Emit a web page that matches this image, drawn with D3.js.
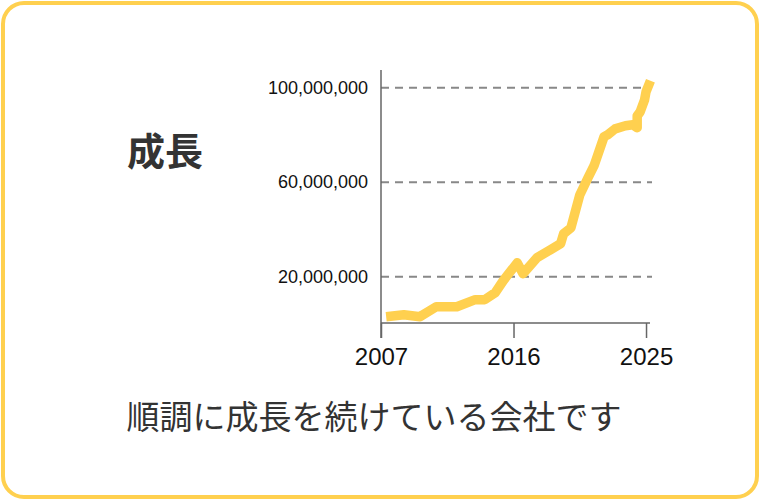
<!DOCTYPE html>
<html>
<head>
<meta charset="utf-8">
<script src="https://cdn.jsdelivr.net/npm/d3@7"></script>
<style>
  body { margin: 0; background: #fff; }
  .tick text { font-family: "Liberation Sans", Arial, sans-serif; fill: #111; }
</style>
</head>
<body>
<div id="chart"></div>
<script>
////////////////// Data ////////////////////
var years = [2007.35, 2008.55, 2009.65, 2010.75, 2012.15, 2013.4, 2014.05, 2014.75, 2015.3, 2016.25,
  2016.65, 2017.6, 2018.5, 2019.2, 2019.4, 2019.9, 2020.5, 2021.06, 2021.47, 2022.15,
  2022.4, 2022.9, 2023.6, 2024.1, 2024.4, 2024.4, 2024.6, 2024.9, 2025.0, 2025.3];
var values = [3100000, 3900000, 3100000, 7300000, 7300000, 10300000, 10300000, 13200000, 18300000, 25900000,
  21300000, 28100000, 31400000, 34000000, 38200000, 40700000, 54600000, 61900000, 67000000, 79300000,
  80100000, 82600000, 83900000, 84300000, 83100000, 88100000, 89800000, 94900000, 98300000, 103000000];
var xTicks = [2007, 2016, 2025];
var yTicks = [20000000, 60000000, 100000000];
var title = "成長";
var caption = "順調に成長を続けている会社です";

var data = years.map(function (y, i) { return { year: y, value: values[i] }; });

////////////////// SVG ////////////////////
var svgWidth = 760, svgHeight = 500;
var svg = d3.select("#chart").append("svg")
  .attr("width", svgWidth)
  .attr("height", svgHeight);

// yellow rounded frame
svg.append("rect")
  .attr("x", 3).attr("y", 3)
  .attr("width", svgWidth - 6).attr("height", svgHeight - 6)
  .attr("rx", 21).attr("ry", 21)
  .attr("fill", "#fff")
  .attr("stroke", "#ffd04f")
  .attr("stroke-width", 4);

////////////////// Scales ////////////////////
var x = d3.scaleLinear().domain([2007, 2025.27]).range([381, 650]);
var y = d3.scaleLinear().domain([0, 107500000]).range([324, 70]);

////////////////// Grid lines ////////////////////
svg.append("g").selectAll("line")
  .data(yTicks)
  .enter()
  .append("line")
  .attr("x1", 381).attr("x2", 652)
  .attr("y1", d => y(d)).attr("y2", d => y(d))
  .attr("stroke", "#888")
  .attr("stroke-width", 2)
  .attr("stroke-dasharray", "8,6");

////////////////// Axes ////////////////////
var yAxis = svg.append("g")
  .attr("transform", "translate(381,0)")
  .call(d3.axisLeft(y).tickValues(yTicks).tickSize(0).tickPadding(13)
    .tickFormat(d3.format(",")));
yAxis.select(".domain").attr("stroke", "#666").attr("stroke-width", 1.5)
  .attr("d", "M0," + y.range()[1] + "V338");
yAxis.selectAll(".tick text").attr("font-size", 18);

var xAxis = svg.append("g")
  .attr("transform", "translate(0,323)")
  .call(d3.axisBottom(x).tickValues(xTicks).tickSize(15).tickPadding(10)
    .tickFormat(d3.format("d")));
xAxis.select(".domain").attr("stroke", "#666").attr("stroke-width", 1.5)
  .attr("d", "M" + x.range()[0] + ",0H" + x.range()[1]);
xAxis.selectAll(".tick line").attr("stroke", "#666").attr("stroke-width", 1.5);
xAxis.selectAll(".tick text").attr("font-size", 24);

////////////////// Line ////////////////////
var line = d3.line()
  .x(d => x(d.year))
  .y(d => y(d.value));

svg.append("path")
  .datum(data)
  .attr("d", line)
  .attr("fill", "none")
  .attr("stroke", "#ffd04f")
  .attr("stroke-width", 9.5)
  .attr("stroke-linejoin", "round")
  .attr("stroke-linecap", "butt");

////////////////// Texts ////////////////////
svg.append("text")
  .attr("x", 165)
  .attr("y", 148)
  .attr("text-anchor", "middle")
  .attr("dominant-baseline", "central")
  .attr("font-family", "'Noto Sans CJK JP', sans-serif")
  .attr("font-weight", "bold")
  .attr("font-size", 38)
  .attr("fill", "#333")
  .text(title);

svg.append("text")
  .attr("x", 374)
  .attr("y", 415)
  .attr("text-anchor", "middle")
  .attr("dominant-baseline", "central")
  .attr("font-family", "'Noto Sans CJK JP', sans-serif")
  .attr("font-size", 33)
  .attr("fill", "#333")
  .text(caption);
</script>
</body>
</html>
